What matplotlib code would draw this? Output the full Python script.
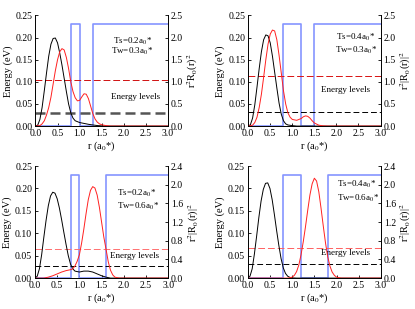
import numpy as np
import matplotlib
matplotlib.use("Agg")
import matplotlib.pyplot as plt

plt.rcParams['font.family'] = ['Liberation Serif', 'DejaVu Serif']
plt.rcParams['mathtext.fontset'] = 'stix'

# ---- data ----
# panel order: top-left, top-right, bottom-left, bottom-right
ts_vals = ["0.2", "0.4", "0.2", "0.4"]
tw_vals = ["0.3", "0.3", "0.6", "0.6"]

# potential profile (eV, left axis)
pot_r = [
    [0, 0.8, 0.8, 1.0, 1.0, 1.3, 1.3, 3.0],
    [0, 0.8, 0.8, 1.2, 1.2, 1.5, 1.5, 3.0],
    [0, 0.8, 0.8, 1.0, 1.0, 1.6, 1.6, 3.0],
    [0, 0.8, 0.8, 1.2, 1.2, 1.8, 1.8, 3.0],
]
pot_v = [0, 0, 0.23, 0.23, 0, 0, 0.23, 0.23]

# energy levels (eV)
e_ground = [0.030, 0.031, 0.026, 0.031]
e_excited = [0.105, 0.114, 0.066, 0.068]

# ground state density (black, right axis)
blk_r = [
    [0, 0.05, 0.1, 0.15, 0.2, 0.25, 0.3, 0.35, 0.4, 0.45, 0.5, 0.55, 0.6, 0.65,
     0.7, 0.75, 0.8, 0.85, 0.9, 1.0, 1.1, 1.2, 1.3, 1.4, 1.5, 1.6, 3.0],
    [0, 0.05, 0.1, 0.15, 0.2, 0.25, 0.3, 0.35, 0.4, 0.45, 0.5, 0.55, 0.6, 0.65,
     0.7, 0.75, 0.8, 0.85, 0.9, 1.0, 1.1, 3.0],
    [0, 0.05, 0.1, 0.15, 0.2, 0.25, 0.3, 0.35, 0.4, 0.45, 0.5, 0.55, 0.6, 0.65,
     0.7, 0.75, 0.8, 0.85, 0.9, 1.0, 1.1, 1.2, 1.3, 1.4, 1.5, 1.6, 1.7, 3.0],
    [0, 0.05, 0.1, 0.15, 0.2, 0.25, 0.3, 0.35, 0.4, 0.45, 0.5, 0.55, 0.6, 0.65,
     0.7, 0.75, 0.8, 0.85, 0.9, 0.95, 1.0, 1.1, 3.0],
]
blk_v = [
    [0, 0.02, 0.15, 0.42, 0.8, 1.2, 1.58, 1.85, 1.98, 1.99, 1.88, 1.65, 1.38, 1.08,
     0.78, 0.5, 0.3, 0.18, 0.12, 0.08, 0.06, 0.04, 0.025, 0.012, 0.005, 0, 0],
    [0, 0.03, 0.18, 0.48, 0.88, 1.3, 1.68, 1.95, 2.06, 2.04, 1.88, 1.58, 1.22, 0.86,
     0.52, 0.27, 0.12, 0.05, 0.025, 0.01, 0, 0],
    [0, 0.04, 0.2, 0.5, 0.88, 1.24, 1.55, 1.76, 1.84, 1.82, 1.7, 1.5, 1.25, 0.98,
     0.72, 0.48, 0.3, 0.2, 0.15, 0.13, 0.15, 0.15, 0.13, 0.09, 0.05, 0.02, 0, 0],
    [0, 0.04, 0.2, 0.52, 0.9, 1.3, 1.65, 1.9, 2.03, 2.04, 1.92, 1.68, 1.36, 1.02,
     0.7, 0.42, 0.22, 0.1, 0.04, 0.015, 0.005, 0, 0],
]

# excited state density (red, right axis)
red_r = [
    [0, 0.1, 0.15, 0.2, 0.25, 0.3, 0.35, 0.4, 0.45, 0.5, 0.55, 0.6, 0.65, 0.7, 0.75,
     0.8, 0.85, 0.9, 0.95, 1.0, 1.05, 1.1, 1.15, 1.2, 1.25, 1.3, 1.35, 1.4, 1.45,
     1.5, 1.6, 1.7, 3.0],
    [0, 0.1, 0.15, 0.2, 0.25, 0.3, 0.35, 0.4, 0.45, 0.5, 0.55, 0.6, 0.65, 0.7, 0.75,
     0.8, 0.85, 0.9, 0.95, 1.0, 1.1, 1.2, 1.25, 1.3, 1.35, 1.4, 1.45, 1.5, 1.6, 1.7,
     1.8, 3.0],
    [0, 0.2, 0.3, 0.4, 0.5, 0.6, 0.7, 0.8, 0.85, 0.9, 0.95, 1.0, 1.05, 1.1, 1.15,
     1.2, 1.25, 1.3, 1.35, 1.4, 1.45, 1.5, 1.55, 1.6, 1.65, 1.7, 1.75, 1.8, 1.9, 3.0],
    [0, 0.9, 1.0, 1.05, 1.1, 1.15, 1.2, 1.25, 1.3, 1.35, 1.4, 1.45, 1.5, 1.55, 1.6,
     1.65, 1.7, 1.75, 1.8, 1.85, 1.9, 1.95, 2.0, 2.1, 3.0],
]
red_v = [
    [0, 0.01, 0.05, 0.12, 0.25, 0.42, 0.65, 0.95, 1.25, 1.5, 1.68, 1.75, 1.72, 1.55,
     1.3, 1.0, 0.78, 0.64, 0.57, 0.58, 0.66, 0.73, 0.72, 0.62, 0.45, 0.28, 0.16,
     0.09, 0.05, 0.03, 0.01, 0, 0],
    [0, 0.02, 0.08, 0.2, 0.42, 0.72, 1.1, 1.5, 1.85, 2.08, 2.17, 2.15, 1.95, 1.6,
     1.2, 0.8, 0.5, 0.3, 0.2, 0.15, 0.13, 0.17, 0.21, 0.23, 0.22, 0.18, 0.12, 0.07,
     0.02, 0.005, 0, 0],
    [0, 0, 0.02, 0.05, 0.09, 0.13, 0.16, 0.18, 0.2, 0.26, 0.36, 0.5, 0.75, 1.05,
     1.38, 1.68, 1.88, 1.96, 1.93, 1.78, 1.52, 1.2, 0.88, 0.62, 0.35, 0.17, 0.07,
     0.02, 0, 0],
    [0, 0, 0.02, 0.06, 0.14, 0.28, 0.5, 0.78, 1.1, 1.45, 1.78, 2.02, 2.14, 2.08,
     1.85, 1.5, 1.12, 0.76, 0.46, 0.26, 0.13, 0.06, 0.02, 0, 0],
]

right_max = [2.5, 2.5, 2.4, 2.4]
right_step = [0.5, 0.5, 0.4, 0.4]
right_label = [r"r$^2$R$_0$(r)$^2$", r"r$^2$|R$_0$(r)|$^2$",
               r"r$^2$|R$_0$(r)|$^2$", r"r$^2$|R$_0$(r)|$^2$"]

# text positions (r, eV)
ts_pos = [(1.75, 0.187), (1.98, 0.195), (1.85, 0.183), (2.02, 0.203)]
tw_pos = [(1.71, 0.164), (1.96, 0.166), (1.85, 0.155), (2.0, 0.173)]
lev_pos = [(1.71, 0.061), (1.64, 0.077), (1.69, 0.045), (1.65, 0.052)]

rects = [
    [0.0855, 0.592, 0.319, 0.358],
    [0.598, 0.592, 0.319, 0.358],
    [0.0843, 0.100, 0.321, 0.3625],
    [0.597, 0.100, 0.321, 0.3625],
]
exc_colors = ['#d01010', '#d81010', '#ff7070', '#ff6060']

fig = plt.figure(figsize=(4.15, 3.09), dpi=100)
blue = '#8595ff'
tick_fs = 7
for i in range(4):
    ax = fig.add_axes(rects[i])
    ax.plot(pot_r[i], pot_v, color=blue, lw=1.2)
    if i == 0:
        ax.axhline(e_ground[i], color='#555555', lw=1.8, ls=(0, (4, 2)))
    else:
        ax.axhline(e_ground[i], color='black', lw=0.7, ls=(0, (6, 3)))
    ax.axhline(e_excited[i], color=exc_colors[i], lw=0.7, ls=(0, (7, 3)))
    ax.set_xlim(0, 3.0)
    ax.set_ylim(0, 0.25)
    ax.set_xticks(np.arange(0, 3.01, 0.5))
    ax.set_yticks(np.arange(0, 0.251, 0.05))
    ax.xaxis.set_major_formatter(matplotlib.ticker.FormatStrFormatter('%.1f'))
    ax.yaxis.set_major_formatter(matplotlib.ticker.FormatStrFormatter('%.2f'))
    ax.tick_params(direction='in', labelsize=tick_fs, length=2.5, width=0.6, pad=2)
    ax.set_xlabel(r"r (a$_0$*)", fontsize=7.5, labelpad=1)
    ax.set_ylabel("Energy (eV)", fontsize=7.5, labelpad=2)
    ax.text(ts_pos[i][0], ts_pos[i][1], "Ts=" + ts_vals[i] + "a$_0$*", fontsize=6.5)
    ax.text(tw_pos[i][0], tw_pos[i][1], "Tw=" + tw_vals[i] + "a$_0$*", fontsize=6.5)
    ax.text(lev_pos[i][0], lev_pos[i][1], "Energy levels", fontsize=6.5)

    ax2 = ax.twinx()
    ax2.plot(blk_r[i], blk_v[i], color='black', lw=0.7)
    ax2.plot(red_r[i], red_v[i], color='#ff2020', lw=0.7)
    ax2.set_ylim(0, right_max[i])
    ax2.set_yticks(np.arange(0, right_max[i] + 0.001, right_step[i]))
    ax2.yaxis.set_major_formatter(matplotlib.ticker.FormatStrFormatter('%.1f'))
    ax2.tick_params(direction='in', labelsize=tick_fs, length=2.5, width=0.6, pad=2)
    ax2.set_ylabel(right_label[i], fontsize=7.5, labelpad=2)
    for a in (ax, ax2):
        a.spines['top'].set_visible(False)
        for s in ('left', 'right', 'bottom'):
            a.spines[s].set_linewidth(0.6)

fig.savefig("out.png", dpi=100)
